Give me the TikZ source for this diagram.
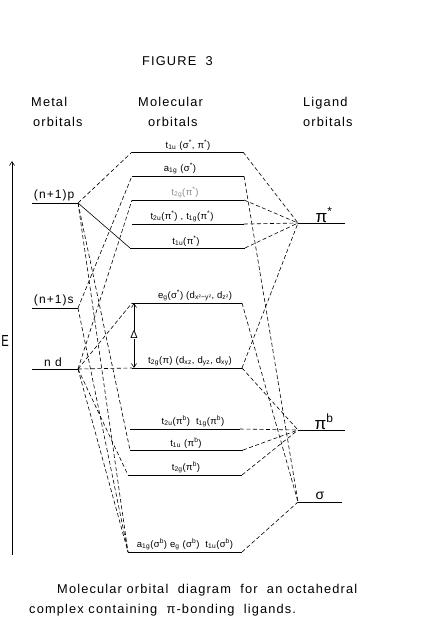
\documentclass[tikz,border=0pt]{standalone}
\usepackage{fontspec}
\setmainfont{Liberation Sans}[LetterSpace=9]
\usetikzlibrary{arrows.meta}
\begin{document}
\begin{tikzpicture}[x=1pt,y=-1pt,
  lvl/.style={line width=0.85pt},
  dsh/.style={line width=0.6pt, dash pattern=on 4pt off 2.5pt},
  sol/.style={line width=0.6pt},
  lab/.style={font=\fontsize{9.5}{11}\selectfont\addfontfeatures{LetterSpace=4}, anchor=south, inner sep=0.8pt},
  mlab/.style={font=\fontsize{12}{14}\selectfont, anchor=south west, inner sep=0.8pt},
  txt/.style={font=\fontsize{12.8}{15}\selectfont, anchor=base west, inner sep=0pt},
  lig/.style={font=\fontsize{17}{20}\selectfont, anchor=base, inner sep=0pt},
  tip/.style={-{Straight Barb[length=4pt,width=5pt]}}]
\useasboundingbox (0,0) rectangle (443,625);

% headings
\node[txt] (fig) at (142,65) {FIGURE\ \ 3};
\node[txt] (h1a) at (31,106) {Metal};
\node[txt] (h1b) at (33,126) {orbitals};
\node[txt] (h2a) at (138,106) {Molecular};
\node[txt] (h2b) at (148,126) {orbitals};
\node[txt] (h3a) at (303,106) {Ligand};
\node[txt] (h3b) at (303,126) {orbitals};

% energy axis
\coordinate (axB) at (12,555);
\coordinate (axT) at (12,161);
\draw[line width=0.6pt, tip] (axB) -- (axT);
\node[font=\fontsize{16}{18}\selectfont, xscale=0.7, inner sep=0pt] (E) at (5,341) {E};

% metal orbitals
\coordinate (pL) at (32,203); \coordinate (pR) at (78,203);
\coordinate (sL) at (32,308); \coordinate (sR) at (78,308);
\coordinate (dL) at (32,369); \coordinate (dR) at (78,369);
\draw[lvl] (pL) -- (pR); \draw[lvl] (sL) -- (sR); \draw[lvl] (dL) -- (dR);
\node[mlab] (pl) at (33,202) {(n+1)p};
\node[mlab] (sl) at (33,307) {(n+1)s};
\node[mlab] (dl) at (43,368) {n d};

% molecular orbitals
\coordinate (AL) at (132,152); \coordinate (AR) at (243,152);
\coordinate (BL) at (132,176); \coordinate (BR) at (244,176);
\coordinate (CL) at (132,200); \coordinate (CR) at (244,200);
\coordinate (DL) at (132,224); \coordinate (DR) at (244,224);
\coordinate (EL) at (130,248); \coordinate (ER) at (245,248);
\coordinate (FL) at (132,303); \coordinate (FR) at (242,303);
\coordinate (GL) at (132,368); \coordinate (GR) at (242,368);
\coordinate (HL) at (130,429); \coordinate (HR) at (240,429);
\coordinate (IL) at (130,450); \coordinate (IR) at (243,450);
\coordinate (JL) at (128,475); \coordinate (JR) at (242,475);
\coordinate (KL) at (128,552); \coordinate (KR) at (242,552);
\foreach \m in {A,B,C,D,E,F,G,H,I,J,K} {\draw[lvl] (\m L) -- (\m R);}

\node[lab] (Alab) at (188,151) {t\textsubscript{1u} (σ\textsuperscript{*}, π\textsuperscript{*})};
\node[lab] (Blab) at (180,175) {a\textsubscript{1g} (σ\textsuperscript{*})};
\node[lab, text=black!45] (Clab) at (185,199) {t\textsubscript{2g}(π\textsuperscript{*})};
\node[lab] (Dlab) at (182,223) {t\textsubscript{2u}(π\textsuperscript{*}) , t\textsubscript{1g}(π\textsuperscript{*})};
\node[lab] (Elab) at (186,247) {t\textsubscript{1u}(π\textsuperscript{*})};
\node[lab] (Flab) at (195,302) {e\textsubscript{g}(σ\textsuperscript{*}) (d\textsubscript{x²−y²}, d\textsubscript{z²})};
\node[lab] (Glab) at (190,367) {t\textsubscript{2g}(π) (d\textsubscript{xz}, d\textsubscript{yz}, d\textsubscript{xy})};
\node[lab] (Hlab) at (193,428) {t\textsubscript{2u}(π\textsuperscript{b})\ \ t\textsubscript{1g}(π\textsuperscript{b})};
\node[lab] (Ilab) at (186,449) {t\textsubscript{1u} (π\textsuperscript{b})};
\node[lab] (Jlab) at (186,474) {t\textsubscript{2g}(π\textsuperscript{b})};
\node[lab] (Klab) at (185,551) {a\textsubscript{1g}(σ\textsuperscript{b})\ e\textsubscript{g} (σ\textsuperscript{b})\ \ t\textsubscript{1u}(σ\textsuperscript{b})};

% Delta
\coordinate (dT) at (134,303);
\coordinate (dB) at (134,368);
\node[font=\fontsize{11}{12}\selectfont, inner sep=0.5pt] (delta) at (134,335) {Δ};
\draw[line width=0.6pt, tip] (delta) -- (dT);
\draw[line width=0.6pt, tip] (delta) -- (dB);

% ligand orbitals
\coordinate (QL) at (298,223); \coordinate (QR) at (345,223);
\coordinate (RL) at (298,430); \coordinate (RR) at (345,430);
\coordinate (SL) at (298,502); \coordinate (SR) at (342,502);
\draw[lvl] (QL) -- (QR); \draw[lvl] (RL) -- (RR); \draw[lvl] (SL) -- (SR);
\node[lig] (Qlab) at (324,222) {π\textsuperscript{*}};
\node[lig] (Rlab) at (324,429) {π\textsuperscript{b}};
\node[lig, font=\fontsize{14}{16}\selectfont] (Slab) at (320,499) {σ};

% metal -> MO
\draw[dsh] (pR) -- (AL);
\draw[sol] (pR) -- (EL);
\draw[dsh] (pR) -- (IL);
\draw[dsh] (pR) -- (KL);
\draw[dsh] (sR) -- (BL);
\draw[dsh] (sR) -- (KL);
\draw[dsh] (dR) -- (CL);
\draw[dsh] (dR) -- (FL);
\draw[dsh] (dR) -- (GL);
\draw[dsh] (dR) -- (JL);
\draw[dsh] (dR) -- (KL);

% MO -> ligand
\draw[dsh] (AR) -- (QL);
\draw[dsh] (CR) -- (QL);
\draw[dsh] (DR) -- (QL);
\draw[dsh] (ER) -- (QL);
\draw[dsh] (GR) -- (QL);
\draw[dsh] (GR) -- (RL);
\draw[dsh] (HR) -- (RL);
\draw[dsh] (IR) -- (RL);
\draw[dsh] (JR) -- (RL);
\draw[dsh] (BR) -- (SL);
\draw[dsh] (FR) -- (SL);
\draw[dsh] (KR) -- (SL);

% caption
\node[txt] (cap1) at (57,593) {Molecular orbital\ \ diagram\ \ for\ \ an octahedral};
\node[txt] (cap2) at (29,613) {complex containing\ \ π-bonding\ \ ligands.};
\end{tikzpicture}
\end{document}
